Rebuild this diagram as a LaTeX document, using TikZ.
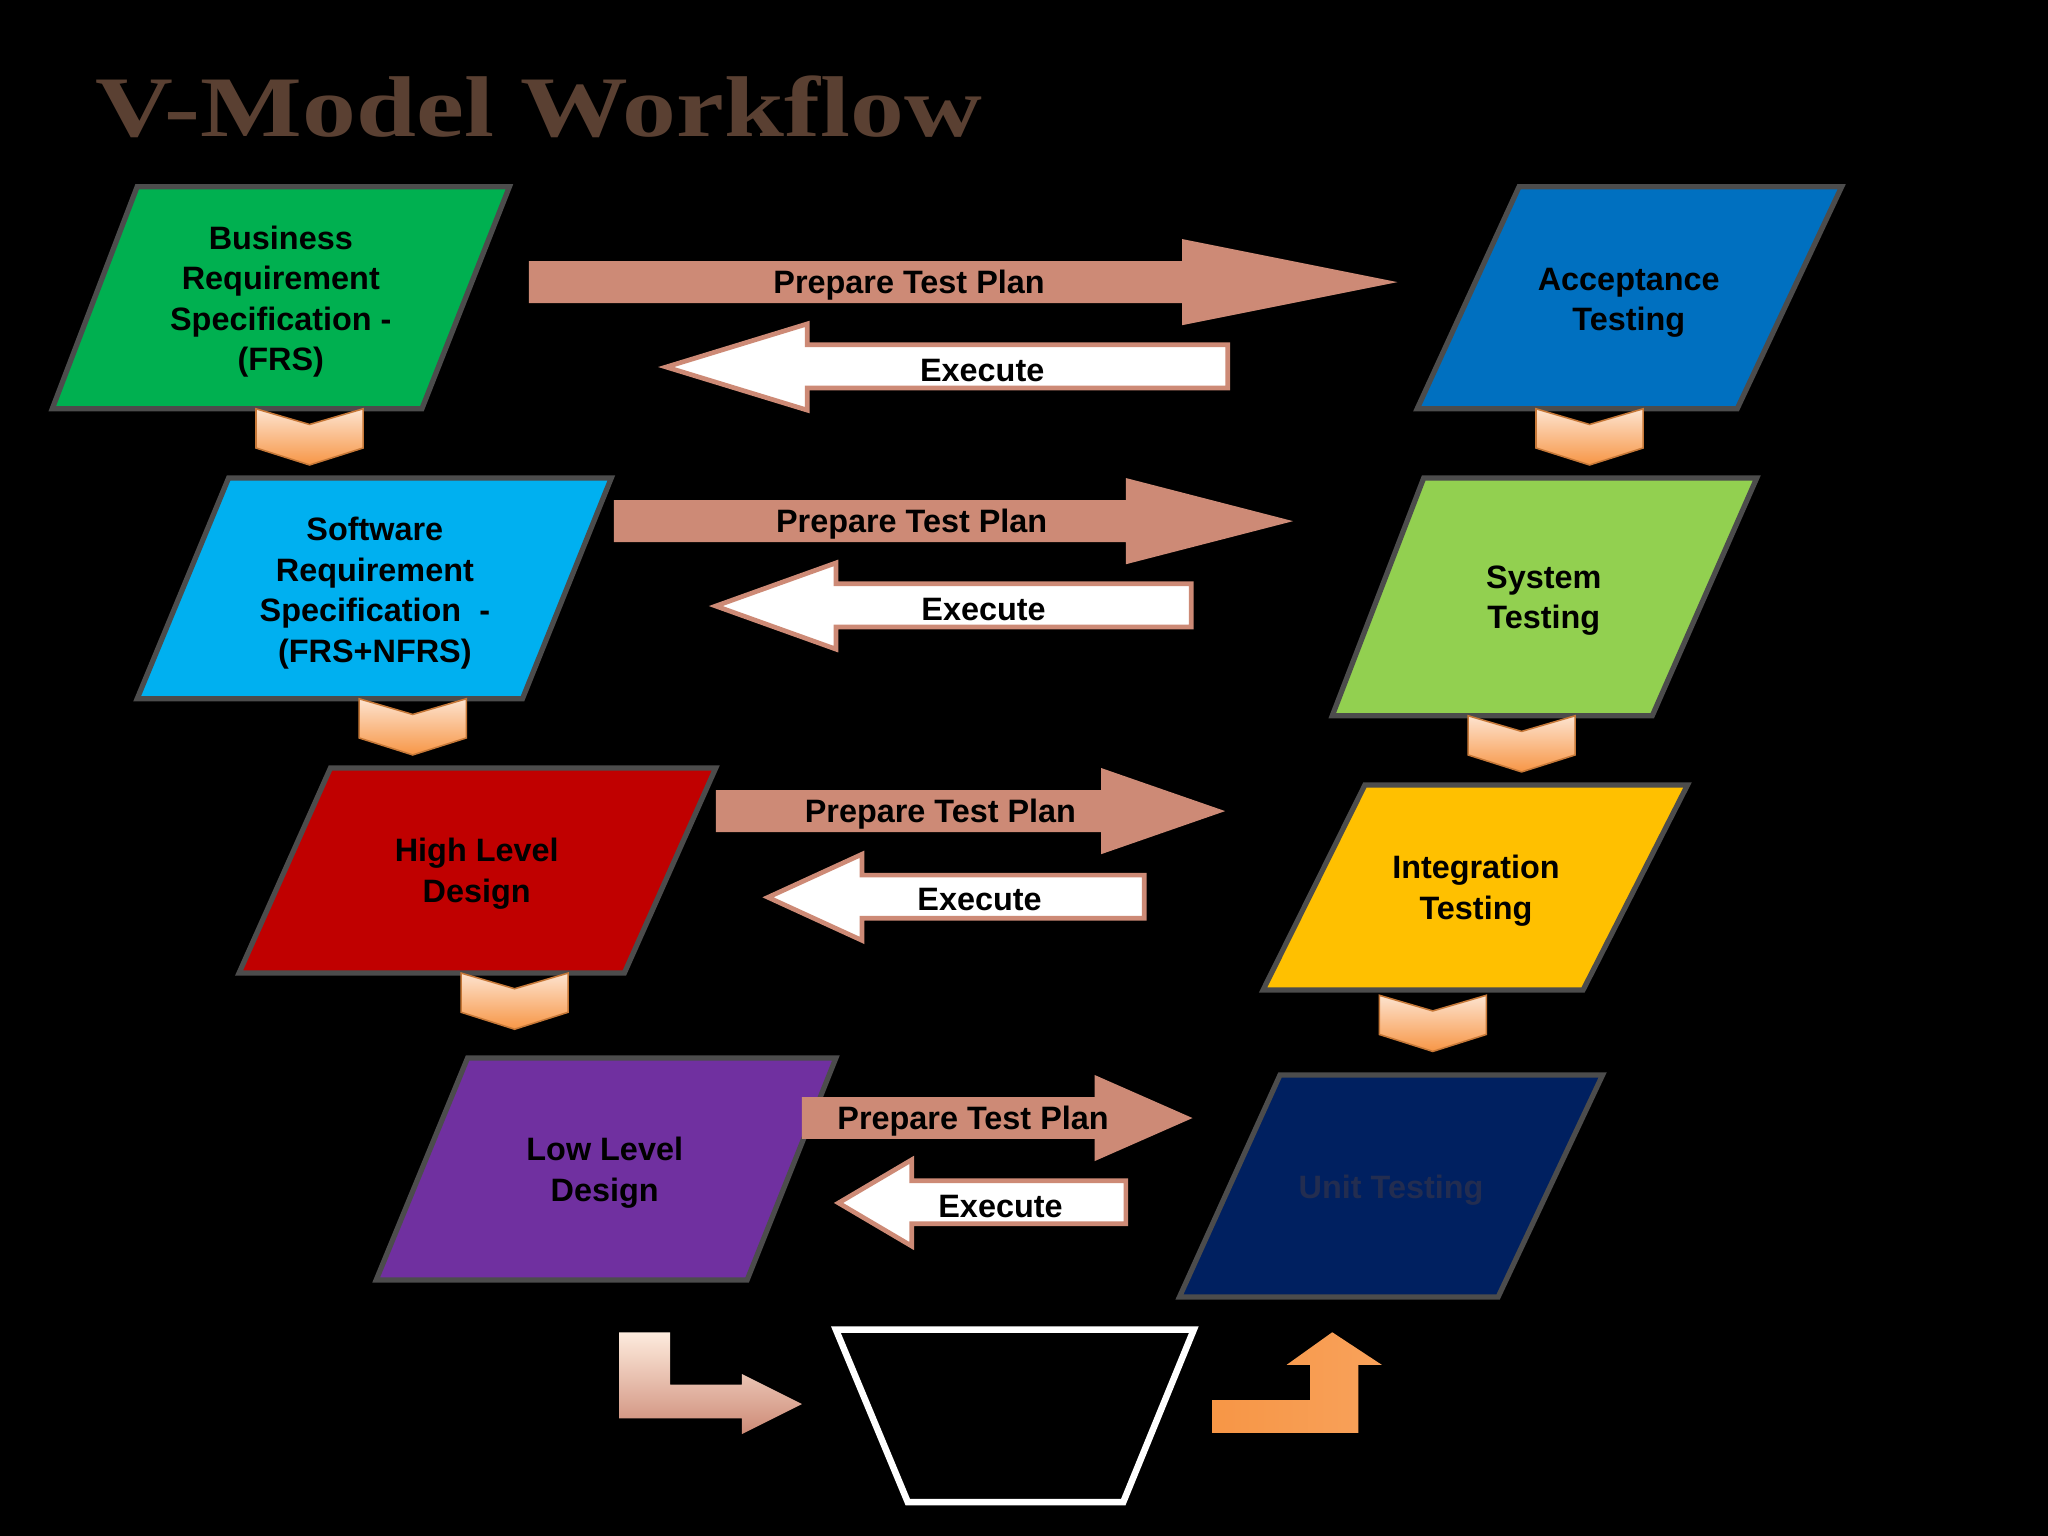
\documentclass[tikz,border=0pt]{standalone}
\usepackage{fontspec}
\setmainfont{Liberation Sans}
\newfontfamily\titlefont{Liberation Serif}
\begin{document}
\begin{tikzpicture}[x=0.5pt,y=-0.5pt,
  para/.style={draw=black!70,line width=2pt},
  lbl/.style={font=\fontsize{12.4}{15.5}\selectfont\bfseries,align=center,text=black},
  prep/.style={fill=prepc,draw=none},
  exe/.style={fill=white,draw=prepc,line width=1.8pt},
  chev/.style={top color=chevtop,bottom color=chevbot,draw=chevbot!80!black,line width=0.6pt}]
\definecolor{prepc}{HTML}{CD8A76}
\definecolor{chevtop}{HTML}{FDE3CF}
\definecolor{chevbot}{HTML}{F79646}
\definecolor{titlec}{HTML}{5A4032}
\fill[black] (0,0) rectangle (1568,1176);
\useasboundingbox (0,0) rectangle (1568,1176);
\node[anchor=west,text=titlec,font=\titlefont\fontsize{33}{35}\selectfont\bfseries,xscale=1.25] (title) at (64,82) {V-Model Workflow};
% left boxes
\draw[para,fill={rgb,255:red,0;green,176;blue,80}] (105,143)--(390,143)--(323,313)--(40,313)--cycle;
\node[lbl] (brs) at (215,231) {Business\\Requirement\\Specification -\\(FRS)};
\draw[para,fill={rgb,255:red,0;green,176;blue,240}] (175,366)--(468,366)--(400,535)--(105,535)--cycle;
\node[lbl] (srs) at (287,454) {Software\\Requirement\\Specification\ \ -\\(FRS+NFRS)};
\draw[para,fill={rgb,255:red,192;green,0;blue,0}] (253,588)--(548,588)--(478,745)--(183,745)--cycle;
\node[lbl] (hld) at (365,669) {High Level\\Design};
\draw[para,fill={rgb,255:red,112;green,48;blue,160}] (358,810)--(640,810)--(572,980)--(288,980)--cycle;
\node[lbl] (lld) at (463,898) {Low Level\\Design};
% right boxes
\draw[para,fill={rgb,255:red,0;green,112;blue,192}] (1163,143)--(1410,143)--(1330,313)--(1085,313)--cycle;
\node[lbl] (at) at (1247,232) {Acceptance\\Testing};
\draw[para,fill={rgb,255:red,146;green,208;blue,80}] (1090,366)--(1345,366)--(1265,548)--(1020,548)--cycle;
\node[lbl] (st) at (1182,460) {System\\Testing};
\draw[para,fill={rgb,255:red,255;green,192;blue,0}] (1045,601)--(1292,601)--(1212,758)--(967,758)--cycle;
\node[lbl] (it) at (1130,682) {Integration\\Testing};
\draw[para,fill={rgb,255:red,0;green,32;blue,96}] (980,823)--(1227,823)--(1147,993)--(903,993)--cycle;
\node[lbl,text={rgb,255:red,35;green,45;blue,80}] (ut) at (1065,911) {Unit Testing};
% chevrons
\foreach \cx/\cy in {237/313,316/535,394/745,1217/313,1165/548,1097/762}{
  \draw[chev] (\cx-41,\cy)--(\cx,\cy+12)--(\cx+41,\cy)--(\cx+41,\cy+30)--(\cx,\cy+43)--(\cx-41,\cy+30)--cycle;}
% prepare arrows
\foreach \a/\b/\t/\y/\h/\n in {405/905/1070/216/33/p1,470/862/990/399/33/p2,548/843/938/621/33/p3,614/838/913/856/33/p4}{
  \fill[prep] (\a,\y-16)--(\b,\y-16)--(\b,\y-\h)--(\t,\y)--(\b,\y+\h)--(\b,\y+16)--(\a,\y+16)--cycle;}
\node[lbl] (pt1) at (696,218) {Prepare Test Plan};
\node[lbl] (pt2) at (698,401) {Prepare Test Plan};
\node[lbl] (pt3) at (720,623) {Prepare Test Plan};
\node[lbl] (pt4) at (745,858) {Prepare Test Plan};
% execute arrows
\foreach \t/\b/\e/\y in {510/618/940/281,548/640/912/464,588/660/876/687,642/698/862/921}{
  \draw[exe] (\t,\y)--(\b,\y-33)--(\b,\y-17)--(\e,\y-17)--(\e,\y+16)--(\b,\y+16)--(\b,\y+33)--cycle;}
\node[lbl] (ex1) at (752,284) {Execute};
\node[lbl] (ex2) at (753,467) {Execute};
\node[lbl] (ex3) at (750,689) {Execute};
\node[lbl] (ex4) at (766,924) {Execute};
% bottom
\shade[top color=chevtop!70,bottom color=prepc] (474,1020)--(513,1020)--(513,1060)--(568,1060)--(568,1052)--(614,1075)--(568,1098)--(568,1086)--(474,1086)--cycle;
\draw[white,line width=2.5pt] (640,1018)--(914,1018)--(860,1150)--(695,1150)--cycle;
\shade[left color=chevbot,right color=chevbot!85!chevtop] (928,1072)--(1003,1072)--(1003,1045)--(985,1045)--(1020,1020)--(1058,1045)--(1040,1045)--(1040,1097)--(928,1097)--cycle;
\end{tikzpicture}
\end{document}
